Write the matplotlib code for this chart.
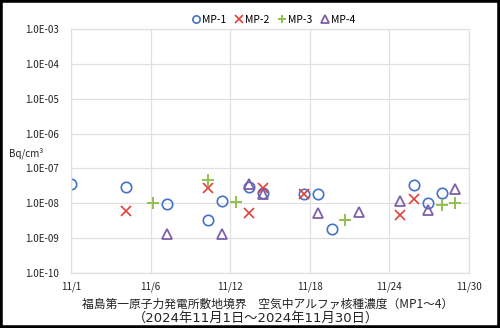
import matplotlib
matplotlib.use("Agg")
import matplotlib.pyplot as plt
from matplotlib.patches import Rectangle

plt.rcParams['font.family'] = ['Noto Sans CJK JP', 'DejaVu Sans']

# data: day of November 2024 and concentration (Bq/cm3)
mp1_days = [1, 5, 8, 11, 12, 14, 15, 18, 19, 20, 26, 27, 28]
mp1_vals = [3.5e-8, 2.9e-8, 9.8e-9, 3.3e-9, 1.17e-8, 2.9e-8, 2.0e-8, 1.8e-8, 1.8e-8, 1.8e-9, 3.3e-8, 1.0e-8, 2.0e-8]
mp2_days = [5, 11, 14, 15, 18, 25, 26]
mp2_vals = [6.0e-9, 2.8e-8, 5.2e-9, 2.8e-8, 1.8e-8, 4.6e-9, 1.36e-8]
mp3_days = [7, 11, 13, 21, 28, 29]
mp3_vals = [1.05e-8, 4.8e-8, 1.1e-8, 3.4e-9, 8.8e-9, 1.0e-8]
mp4_days = [8, 12, 14, 15, 19, 22, 25, 27, 29]
mp4_vals = [1.35e-9, 1.35e-9, 3.6e-8, 1.9e-8, 5.1e-9, 5.7e-9, 1.2e-8, 6.3e-9, 2.6e-8]

x_ticks = [1, 6.8, 12.6, 18.4, 24.2, 30]
x_labels = ["11/1", "11/6", "11/12", "11/18", "11/24", "11/30"]
y_ticks = [1e-10, 1e-9, 1e-8, 1e-7, 1e-6, 1e-5, 1e-4, 1e-3]
y_labels = ["1.0E-10", "1.0E-09", "1.0E-08", "1.0E-07", "1.0E-06", "1.0E-05", "1.0E-04", "1.0E-03"]
title1 = "福島第一原子力発電所敷地境界　空気中アルファ核種濃度（MP1～4）"
title2 = "（2024年11月1日～2024年11月30日）"

fig = plt.figure(figsize=(5.0, 3.28), dpi=100)
ax = fig.add_axes([0.142, 0.1677, 0.796, 0.744])

ms = 7.5
ax.plot(mp1_days, mp1_vals, linestyle='none', marker='o', ms=ms, mfc='none', mec='#4472C4', mew=1.2, label='MP-1')
ax.plot(mp2_days, mp2_vals, linestyle='none', marker='x', ms=ms, mec='#E0403A', mew=1.2, label='MP-2')
ax.plot(mp3_days, mp3_vals, linestyle='none', marker='+', ms=ms+1, mec='#92C050', mew=1.4, label='MP-3')
ax.plot(mp4_days, mp4_vals, linestyle='none', marker='^', ms=ms, mfc='none', mec='#7F5FA8', mew=1.3, label='MP-4')

ax.set_yscale('log')
ax.set_ylim(1e-10, 1e-3)
ax.set_xlim(1, 30)
ax.set_xticks(x_ticks)
ax.set_xticklabels(x_labels)
ax.set_yticks(y_ticks)
ax.set_yticklabels(y_labels)
ax.yaxis.set_minor_locator(matplotlib.ticker.NullLocator())
ax.tick_params(axis='both', length=0, labelsize=7, colors='#222222')
ax.tick_params(axis='x', pad=6)
ax.tick_params(axis='y', pad=9)
ax.grid(True, color='#E0E0E0', linewidth=0.9)
ax.set_axisbelow(True)
for s in ax.spines.values():
    s.set_color('#E0E0E0')
    s.set_linewidth(0.9)

leg = ax.legend(loc='lower center', bbox_to_anchor=(0.51, 1.0), ncol=4, frameon=False,
                fontsize=7.5, handlelength=0.6, handletextpad=0.3, columnspacing=0.9,
                markerscale=0.7, borderaxespad=0.0)

fig.text(0.018, 0.533, "Bq/cm³", fontsize=7, ha='left', va='center', color='#222222')
fig.text(0.535, 0.073, title1, fontsize=8.5, ha='center', va='center', color='#222222')
fig.text(0.511, 0.030, title2, fontsize=9.5, ha='center', va='center', color='#222222',
         family=['DejaVu Sans', 'Noto Sans CJK JP'])

fig.add_artist(Rectangle((0, 0), 1, 1, transform=fig.transFigure, fill=False,
                         edgecolor='black', linewidth=4, clip_on=False))

fig.savefig('out.png', dpi=100)
